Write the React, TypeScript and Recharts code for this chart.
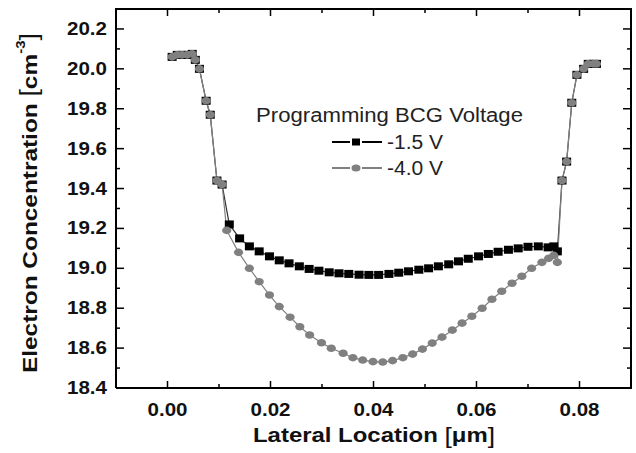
import React from "react";
import { LineChart, Line, XAxis, YAxis, Legend, Label } from "recharts";

// -1.5 V series (black squares)
const xLow = [
  0.0009, 0.0019, 0.0028, 0.0038, 0.0048, 0.0054, 0.0062, 0.0075, 0.0083, 0.0096, 0.0106,
  0.012, 0.014, 0.0159, 0.0178, 0.0198, 0.0217, 0.0236, 0.0256, 0.0275, 0.0294, 0.0314,
  0.0333, 0.0352, 0.0372, 0.0391, 0.041, 0.043, 0.0449, 0.0468, 0.0488, 0.0507, 0.0526,
  0.0546, 0.0565, 0.0584, 0.0604, 0.0623, 0.0642, 0.0662, 0.0681, 0.07, 0.072, 0.0739,
  0.075, 0.0757, 0.0766, 0.0775, 0.0785, 0.0795, 0.0808, 0.0817, 0.0827, 0.0833,
];
const yLow = [
  20.06, 20.07, 20.07, 20.07, 20.075, 20.045, 20.0, 19.84, 19.77, 19.44, 19.42,
  19.22, 19.15, 19.11, 19.085, 19.06, 19.04, 19.025, 19.01, 18.997, 18.988, 18.98,
  18.975, 18.972, 18.968, 18.967, 18.967, 18.972, 18.978, 18.985, 18.993, 19.0, 19.01,
  19.02, 19.035, 19.048, 19.06, 19.072, 19.083, 19.093, 19.1, 19.108, 19.11, 19.105,
  19.11, 19.085, 19.44, 19.535, 19.83, 19.97, 20.0, 20.025, 20.025, 20.025,
];

// -4.0 V series (grey circles)
const xHigh = [
  0.0009, 0.0019, 0.0028, 0.0038, 0.0048, 0.0054, 0.0062, 0.0075, 0.0083, 0.0096, 0.0106,
  0.0115, 0.0138, 0.0159, 0.0178, 0.0198, 0.0217, 0.0238, 0.0257, 0.0276, 0.0299, 0.0318,
  0.0341, 0.036, 0.0379, 0.0399, 0.0418, 0.0437, 0.0457, 0.0476, 0.0495, 0.0514, 0.0533,
  0.0553, 0.0572, 0.0591, 0.0611, 0.063, 0.0649, 0.0669, 0.0688, 0.0707, 0.0727, 0.074,
  0.075, 0.0757, 0.0766, 0.0775, 0.0785, 0.0795, 0.0808, 0.0817, 0.0827, 0.0833,
];
const yHigh = [
  20.06, 20.07, 20.07, 20.07, 20.075, 20.045, 20.0, 19.84, 19.77, 19.44, 19.42,
  19.19, 19.08, 19.0, 18.933, 18.866, 18.808, 18.755, 18.707, 18.666, 18.627, 18.599,
  18.574, 18.552, 18.54, 18.532, 18.53, 18.537, 18.552, 18.57, 18.595, 18.625, 18.655,
  18.69, 18.725, 18.76, 18.8, 18.845, 18.885, 18.925, 18.96, 19.0, 19.03, 19.05,
  19.065, 19.03, 19.44, 19.535, 19.83, 19.97, 20.0, 20.025, 20.025, 20.025,
];

const seriesNames = ["-1.5 V", "-4.0 V"];
const legendTitle = "Programming BCG Voltage";

const xDomain = [-0.01, 0.09];
const yDomain = [18.4, 20.3];
const xTicks = [0, 0.01, 0.02, 0.03, 0.04, 0.05, 0.06, 0.07, 0.08];
const xMajor = [0, 0.02, 0.04, 0.06, 0.08];
const yTicks = [
  18.4, 18.5, 18.6, 18.7, 18.8, 18.9, 19.0, 19.1, 19.2, 19.3, 19.4, 19.5, 19.6, 19.7,
  19.8, 19.9, 20.0, 20.1, 20.2,
];
const yMajor = [18.4, 18.6, 18.8, 19.0, 19.2, 19.4, 19.6, 19.8, 20.0, 20.2];

const lowData = xLow.map((x, i) => ({ x, y: yLow[i] }));
const highData = xHigh.map((x, i) => ({ x, y: yHigh[i] }));

const FONT = "'Liberation Sans', Arial, sans-serif";
const GREY = "#808080";
const W = 636;
const H = 453;
const M = { top: 9, right: 5, bottom: 0, left: 0 };
const Y_AXIS_W = 116;
const X_AXIS_H = 65;
const PLOT = {
  left: M.left + Y_AXIS_W,
  right: W - M.right,
  top: M.top,
  bottom: H - M.bottom - X_AXIS_H,
};
const isMajor = (v: number, list: number[]) => list.some((m) => Math.abs(m - v) < 1e-6);

const BottomTick = (p: any) => {
  const major = isMajor(p.payload.value, xMajor);
  return (
    <g>
      <line x1={p.x} x2={p.x} y1={p.y} y2={p.y - (major ? 7 : 4)} stroke="#000" strokeWidth={1.5} />
      {major && (
        <text x={p.x} y={p.y + 22} textAnchor="middle" dominantBaseline="central" fontFamily={FONT}
          fontWeight="bold" fontSize={18} fill="#111" textLength={40} lengthAdjust="spacingAndGlyphs">
          {p.payload.value.toFixed(2)}
        </text>
      )}
    </g>
  );
};

const LeftTick = (p: any) => {
  const major = isMajor(p.payload.value, yMajor);
  return (
    <g>
      <line x1={p.x} x2={p.x + (major ? 8 : 4)} y1={p.y} y2={p.y} stroke="#000" strokeWidth={1.5} />
      {major && (
        <text x={p.x - 9} y={p.y} textAnchor="end" dominantBaseline="central" fontFamily={FONT}
          fontWeight="bold" fontSize={18} fill="#111" textLength={40} lengthAdjust="spacingAndGlyphs">
          {p.payload.value.toFixed(1)}
        </text>
      )}
    </g>
  );
};

const squareDot = (p: any) => (
  <rect key={`s${p.index}`} x={p.cx - 4.5} y={p.cy - 4} width={9} height={8} fill="#000" />
);
const circleDot = (p: any) => (
  <ellipse key={`c${p.index}`} cx={p.cx} cy={p.cy} rx={4.6} ry={3.8} fill={GREY} />
);

const LegendBox = () => (
  <svg width={290} height={90} style={{ display: "block" }}>
    <text x={6} y={20} dominantBaseline="central" fontFamily={FONT} fontSize={20} fill="#222"
      textLength={267} lengthAdjust="spacingAndGlyphs">
      {legendTitle}
    </text>
    <line x1={82} x2={100} y1={47} y2={47} stroke="#000" strokeWidth={2} />
    <line x1={112} x2={132} y1={47} y2={47} stroke="#000" strokeWidth={2} />
    <rect x={102} y={43.5} width={8} height={7} fill="#000" />
    <text x={137} y={47} dominantBaseline="central" fontFamily={FONT} fontSize={20} fill="#222"
      textLength={56} lengthAdjust="spacingAndGlyphs">
      {seriesNames[0]}
    </text>
    <line x1={82} x2={100} y1={73} y2={73} stroke={GREY} strokeWidth={2} />
    <line x1={112} x2={132} y1={73} y2={73} stroke={GREY} strokeWidth={2} />
    <ellipse cx={106} cy={73} rx={4.5} ry={3.6} fill={GREY} />
    <text x={137} y={73} dominantBaseline="central" fontFamily={FONT} fontSize={20} fill="#222"
      textLength={56} lengthAdjust="spacingAndGlyphs">
      {seriesNames[1]}
    </text>
  </svg>
);

// top and right edges of the box, with inward ticks, laid over the chart
const FrameOverlay = () => {
  const { left, right, top, bottom } = PLOT;
  const px = (v: number) => left + ((v - xDomain[0]) / (xDomain[1] - xDomain[0])) * (right - left);
  const py = (v: number) => bottom - ((v - yDomain[0]) / (yDomain[1] - yDomain[0])) * (bottom - top);
  return (
    <>
      <div
        style={{
          position: "absolute", left: left - 1, top: top - 1, width: right - left + 2,
          height: bottom - top + 2, borderTop: "2px solid #000", borderRight: "2px solid #000",
          boxSizing: "border-box", pointerEvents: "none", zIndex: 5,
        }}
      />
      <svg width={W} height={H}
        style={{ position: "absolute", left: 0, top: 0, pointerEvents: "none", zIndex: 6 }}>
        {xTicks.map((t) => (
          <line key={`tx${t}`} x1={px(t)} x2={px(t)} y1={top} y2={top + (isMajor(t, xMajor) ? 7 : 4)}
            stroke="#000" strokeWidth={1.5} />
        ))}
        {yTicks.map((t) => (
          <line key={`ty${t}`} x1={right} x2={right - (isMajor(t, yMajor) ? 8 : 4)} y1={py(t)} y2={py(t)}
            stroke="#000" strokeWidth={1.5} />
        ))}
      </svg>
    </>
  );
};

const XTitle = () => (
  <text x={374} y={435} textAnchor="middle" dominantBaseline="central" fontFamily={FONT}
    fontWeight="bold" fontSize={20} fill="#111" textLength={242} lengthAdjust="spacingAndGlyphs">
    Lateral Location <tspan fontWeight="normal" fontSize={22}>[</tspan>μm
    <tspan fontWeight="normal" fontSize={22}>]</tspan>
  </text>
);

const YTitle = () => (
  <text x={29} y={203} transform="rotate(-90 29 203)" textAnchor="middle" dominantBaseline="central"
    fontFamily={FONT} fontWeight="bold" fontSize={21} fill="#111" textLength={340} lengthAdjust="spacingAndGlyphs">
    Electron Concentration <tspan fontWeight="normal" fontSize={23}>[</tspan>cm
    <tspan fontSize={13} dy={-9}>-3</tspan>
    <tspan fontWeight="normal" fontSize={23} dy={9}>]</tspan>
  </text>
);

export default function App() {
  return (
    <div style={{ position: "absolute", left: 0, top: 0, width: W, height: H, background: "#fff" }}>
      <LineChart width={W} height={H} margin={M}>
        <XAxis type="number" dataKey="x" domain={xDomain} ticks={xTicks}
          interval={0} allowDataOverflow tickSize={0} tickMargin={0} tickLine={false}
          tick={BottomTick} height={X_AXIS_H} axisLine={{ stroke: "#000", strokeWidth: 2 }}>
          <Label content={XTitle} />
        </XAxis>
        <YAxis type="number" domain={yDomain} ticks={yTicks} interval={0}
          allowDataOverflow tickSize={0} tickMargin={0} tickLine={false} tick={LeftTick} width={Y_AXIS_W}
          axisLine={{ stroke: "#000", strokeWidth: 2 }}>
          <Label content={YTitle} />
        </YAxis>
        <Legend layout="horizontal" verticalAlign="middle" content={LegendBox}
          wrapperStyle={{ left: 250, top: 95, width: 290, height: 90 }} />
        <Line data={lowData} dataKey="y" name={seriesNames[0]} stroke="#333"
          strokeWidth={1.2} dot={squareDot} activeDot={false} isAnimationActive={false} />
        <Line data={highData} dataKey="y" name={seriesNames[1]} stroke={GREY}
          strokeWidth={1.2} dot={circleDot} activeDot={false} isAnimationActive={false} />
      </LineChart>
      <FrameOverlay />
    </div>
  );
}
